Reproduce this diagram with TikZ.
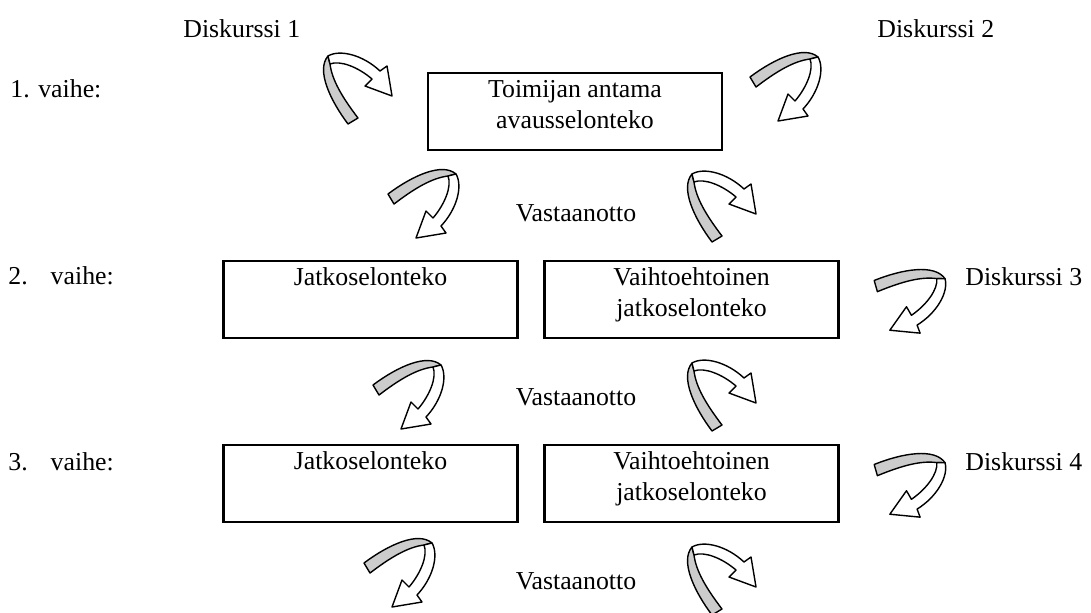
\documentclass[tikz,border=0pt]{standalone}
\usepackage{fontspec}
\setmainfont{Liberation Serif}
\definecolor{ribbongray}{gray}{0.8}
\newcommand{\lowstrut}{\rule[-9.8pt]{0pt}{9.8pt}}
\tikzset{
    twistarrow/.pic={
        \filldraw[fill=ribbongray, draw=black, line width=0.7pt, line join=round] (20,69) .. controls (2,45) and (-12,15) .. (0,1) -- (2,9) .. controls (4,25) and (14,42) .. (30,63) -- cycle;
        \filldraw[fill=white, draw=black, line width=0.7pt, line join=round] (0,1) .. controls (12,-6) and (35,0) .. (52,16) -- (59,11) -- (64,41) -- (37,31) -- (44,24) .. controls (30,12) and (12,5) .. (2,9) -- cycle;
    }
}
\begin{document}
\begin{tikzpicture}[x=0.5pt, y=-0.5pt, font=\fontsize{12.9}{15.5}\selectfont]
    \useasboundingbox (0,0) rectangle (1091,612);

    \begin{scope}[every node/.style={draw, line width=1.1pt, minimum width=147pt, minimum height=38.5pt, inner sep=0pt, align=center}]
        \node (open) at (575,111.5) {\strut Toimijan antama\\avausselonteko\lowstrut};
        \node (cont2) at (370.5,299.5) {\strut Jatkoselonteko\\\lowstrut};
        \node (alt2) at (691.5,299.5) {\strut Vaihtoehtoinen\\jatkoselonteko\lowstrut};
        \node (cont3) at (370.5,483.5) {\strut Jatkoselonteko\\\lowstrut};
        \node (alt3) at (691.5,483.5) {\strut Vaihtoehtoinen\\jatkoselonteko\lowstrut};
    \end{scope}

    \begin{scope}[every node/.style={inner sep=0pt, anchor=base west}]
        \node (d1) at (183,37) {Diskurssi 1};
        \node (d2) at (877,37) {Diskurssi 2};
        \node (d3) at (965,285) {Diskurssi 3};
        \node (d4) at (965,470) {Diskurssi 4};
        \node (p1) at (10,97) {1. vaihe:};
        \node (p2) at (8,284) {2.\hspace{11.5pt}vaihe:};
        \node (p3) at (8,470) {3.\hspace{11.5pt}vaihe:};
    \end{scope}

    \begin{scope}[every node/.style={inner sep=0pt, anchor=base}]
        \node (v1) at (576,221) {Vastaanotto};
        \node (v2) at (576,405) {Vastaanotto};
        \node (v3) at (576,589) {Vastaanotto};
    \end{scope}

    % kiertyvat nuolet
    \pic (t1) at (328,55) {twistarrow};
    \pic[rotate=-90] (t2) at (819,57) {twistarrow};
    \pic[rotate=-90] (l1) at (457,174) {twistarrow};
    \pic (r1) at (692,173) {twistarrow};
    \pic[rotate=-105] (s3) at (946,279) {twistarrow};
    \pic[rotate=-90] (l2) at (442,365) {twistarrow};
    \pic (r2) at (692,362) {twistarrow};
    \pic[rotate=-105] (s4) at (946,463) {twistarrow};
    \pic[rotate=-90] (l3) at (433,543) {twistarrow};
    \pic (r3) at (692,546) {twistarrow};
\end{tikzpicture}
\end{document}
